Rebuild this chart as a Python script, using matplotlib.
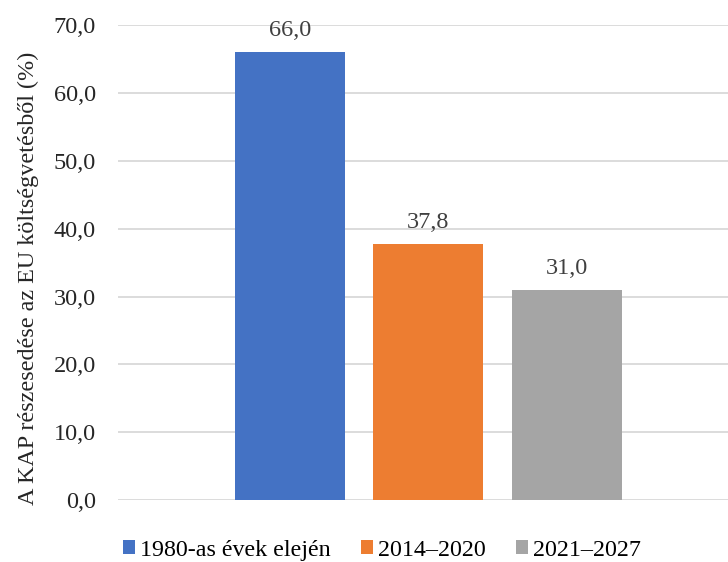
import matplotlib
matplotlib.use("Agg")
import matplotlib.pyplot as plt
from matplotlib.ticker import FuncFormatter, MultipleLocator

periods = ["1980-as évek elején", "2014–2020", "2021–2027"]
shares = [66.0, 37.8, 31.0]
colors = ["#4472C4", "#ED7D31", "#A5A5A5"]

plt.rcParams["font.family"] = ["Liberation Serif", "DejaVu Serif"]

fig = plt.figure(figsize=(7.28, 5.62), dpi=100)
ax = fig.add_axes([0.162, 0.110, 0.838, 0.8455])

xs = [1, 2, 3]
bars = ax.bar(xs, shares, width=0.794, color=colors, label=periods, zorder=3)

for x, v in zip(xs, shares):
    ax.annotate(f"{v:.1f}".replace(".", ","), (x, v), xytext=(0, 11.5),
                textcoords="offset points", ha="center", va="baseline",
                fontsize=17.5, color="#404040")

ax.set_xlim(-0.242, 4.166)
ax.set_ylim(0, 70)
ax.yaxis.set_major_locator(MultipleLocator(10))
ax.yaxis.set_major_formatter(FuncFormatter(lambda v, p: f"{v:.1f}".replace(".", ",")))
ax.grid(axis="y", color="#D9D9D9", linewidth=1.3, zorder=0)
ax.set_xticks([])
ax.tick_params(axis="y", length=0, pad=16, labelsize=17.5, labelcolor="#262626")
for s in ax.spines.values():
    s.set_visible(False)

ax.set_ylabel("A KAP részesedése az EU költségvetésből (%)", fontsize=17.4,
              color="#262626", va="center")
ax.yaxis.set_label_coords(-0.1475, 0.467)

fig.legend(handles=bars, labels=periods, loc="center", bbox_to_anchor=(0.525, 0.021),
           ncol=3, frameon=False, fontsize=17.3, handlelength=0.5, handleheight=0.5,
           handletextpad=0.21, columnspacing=1.25)

fig.savefig("out.png", dpi=100)
